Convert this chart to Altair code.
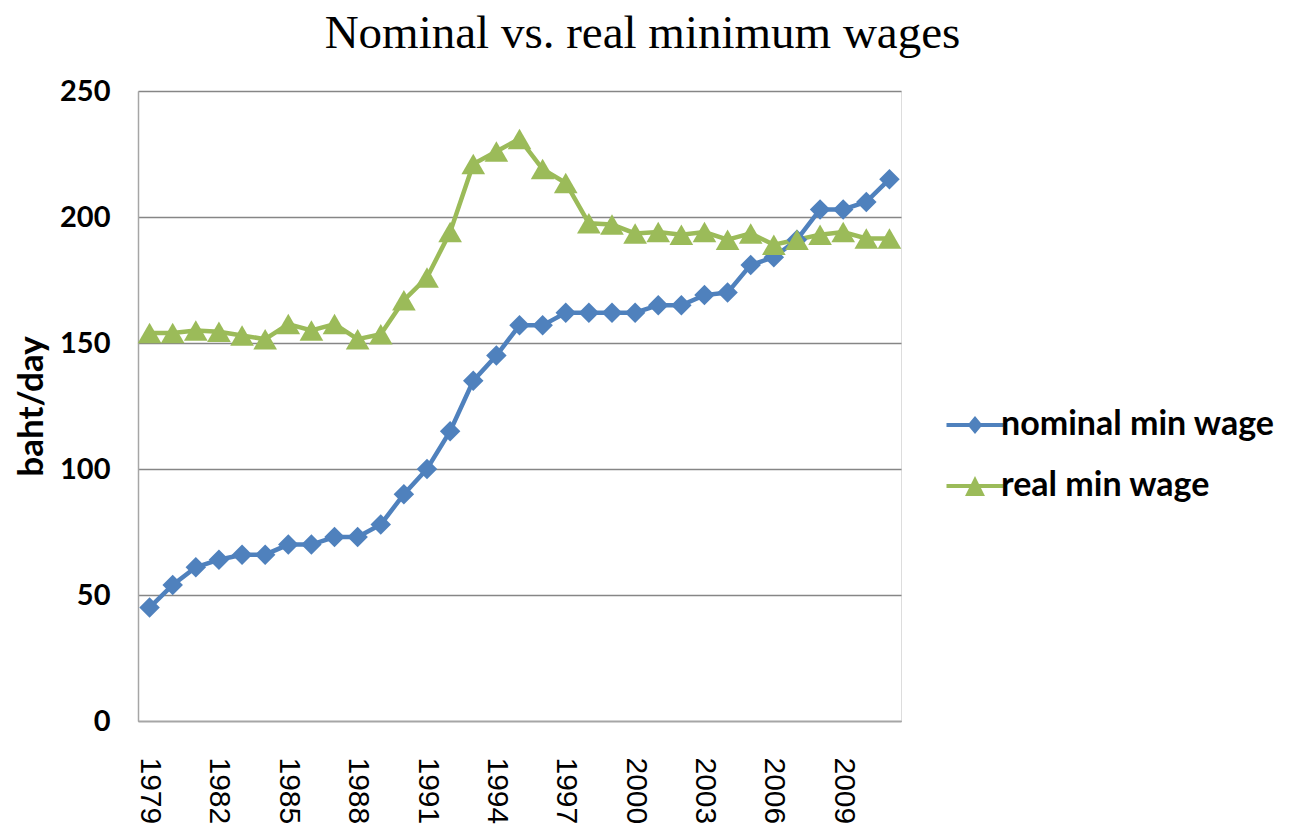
import altair as alt
import pandas as pd

years = [1979, 1980, 1981, 1982, 1983, 1984, 1985, 1986, 1987, 1988, 1989,
         1990, 1991, 1992, 1993, 1994, 1995, 1996, 1997, 1998, 1999, 2000,
         2001, 2002, 2003, 2004, 2005, 2006, 2007, 2008, 2009, 2010, 2011]
nominal = [45, 54, 61, 64, 66, 66, 70, 70, 73, 73, 78, 90, 100, 115, 135, 145,
           157, 157, 162, 162, 162, 162, 165, 165, 169, 170, 181, 184, 191,
           203, 203, 206, 215]
real = [154, 154, 155, 154.5, 153, 151.5, 157.5, 155, 157.5, 151.5, 153.5, 167,
        176, 194, 221, 226, 231, 219, 213.5, 197.5, 197, 193.5, 194, 193, 194,
        191, 193.5, 189, 191, 193, 194, 191.5, 191.5]
series_names = ["nominal min wage", "real min wage"]
series_colors = ["#4F81BD", "#9BBB59"]
tick_years = [1979, 1982, 1985, 1988, 1991, 1994, 1997, 2000, 2003, 2006, 2009]
y_ticks = [0, 50, 100, 150, 200, 250]

df = pd.concat([
    pd.DataFrame({"year": years, "value": nominal, "series": series_names[0]}),
    pd.DataFrame({"year": years, "value": real, "series": series_names[1]}),
])

LEG_D = "M-3.8,-0.27L-0.775,-0.27L0,-1.2L0.775,-0.27L3.8,-0.27L3.8,0.27L0.775,0.27L0,1.2L-0.775,0.27L-3.8,0.27Z"
LEG_T = "M-3.8,-0.27L-0.528,-0.27L0,-1.33L0.528,-0.27L3.8,-0.27L3.8,0.27L0.797,0.27L1.33,1.33L-1.33,1.33L-0.797,0.27L-3.8,0.27Z"

x_enc = alt.X(
    "year:O",
    scale=alt.Scale(type="point", padding=0.5),
    axis=alt.Axis(
        values=tick_years, labelAngle=90, ticks=False, grid=False,
        domainColor="#A6A6A6", domainWidth=1.5, labelPadding=36,
        labelFont="Liberation Sans", labelFontSize=30, labelColor="#000000",
        title=None,
    ),
)
y_enc = alt.Y(
    "value:Q",
    scale=alt.Scale(domain=[0, 250], nice=False, zero=True),
    axis=alt.Axis(
        values=y_ticks, ticks=False, grid=True, gridColor="#868686",
        gridWidth=1.5, domainColor="#A6A6A6", domainWidth=1.5,
        labelFont="Lato", labelFontWeight="bold", labelFontSize=29,
        labelColor="#000000", labelPadding=28,
        title="baht/day", titleFont="Lato", titleFontWeight="bold",
        titleFontSize=35, titleColor="#000000", titlePadding=10,
    ),
)
color_plain = alt.Color("series:N", scale=alt.Scale(domain=series_names, range=series_colors), legend=None)

base = alt.Chart(df)
lines = base.mark_line(strokeWidth=4.5).encode(x=x_enc, y=y_enc, color=color_plain)
points = base.mark_point(filled=True, opacity=1).encode(
    x=x_enc, y=y_enc, color=color_plain,
    shape=alt.Shape("series:N", scale=alt.Scale(domain=series_names, range=["diamond", "triangle-up"]), legend=None),
    size=alt.Size("series:N", scale=alt.Scale(domain=series_names, range=[420, 560]), legend=None),
)
leg = alt.Legend(
    title=None, orient="none", legendX=820, legendY=317,
    symbolSize=225, symbolStrokeWidth=0, labelFont="Lato",
    labelFontWeight="bold", labelFontSize=34, labelColor="#000000",
    labelOffset=9, rowPadding=27, symbolOpacity=1, labelLimit=0,
)
legend_layer = base.mark_point(filled=True, opacity=1).encode(
    x=x_enc, y=y_enc,
    color=alt.Color("series:N", scale=alt.Scale(domain=series_names, range=series_colors), legend=leg),
    shape=alt.Shape("series:N", scale=alt.Scale(domain=series_names, range=[LEG_D, LEG_T]), legend=leg),
).transform_filter("datum.year < 0")

chart = alt.layer(lines, points, legend_layer).resolve_scale(
    color="independent", shape="independent"
).properties(
    width=763, height=630,
    autosize=alt.AutoSizeParams(type="none"),
    padding={"left": 130, "top": 83, "right": 385, "bottom": 112},
    title=alt.TitleParams(
        "Nominal vs. real minimum wages", font="Liberation Serif",
        fontSize=47, fontWeight="normal", color="#000000", anchor="middle",
        dx=123, offset=19,
    ),
).configure_view(stroke=None).configure(background="#FFFFFF")

chart.save("out.html", embed_options={"renderer": "svg", "actions": False})
